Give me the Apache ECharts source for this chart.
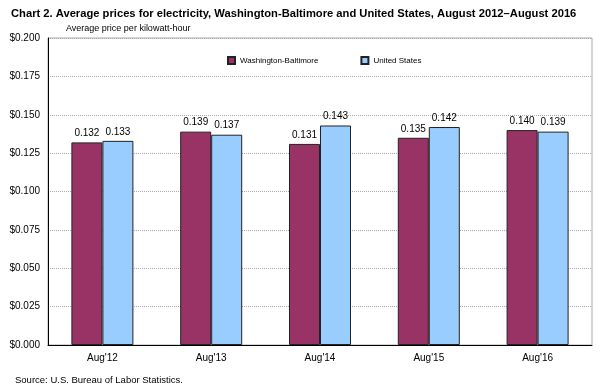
<!DOCTYPE html>
<html><head><meta charset="utf-8">
<script src="https://cdn.jsdelivr.net/npm/echarts@6/dist/echarts.min.js"></script>
<style>html,body{margin:0;padding:0;background:#fff}#c{width:608px;height:390px}</style>
</head><body><div id="c"></div>
<script>
const categories = ["Aug'12","Aug'13","Aug'14","Aug'15","Aug'16"];
const washBalt = [0.132,0.139,0.131,0.135,0.140];
const unitedStates = [0.133,0.137,0.143,0.142,0.139];
const seriesNames = ["Washington-Baltimore","United States"];
const yTicks = {min:0,max:0.2,interval:0.025};

const chart = echarts.init(document.getElementById('c'));
const labelCfg = {show:true,position:'top',distance:4,color:'#000',fontFamily:'Arial, Liberation Sans',fontSize:10,formatter:p=>p.value.toFixed(3)};
chart.setOption({
  animation:false,
  title:[
    {text:'Chart 2. Average prices for electricity, Washington-Baltimore and United States, August 2012\u2013August 2016',left:6,top:3,textStyle:{fontFamily:'Arial, Liberation Sans',fontSize:11.2,fontWeight:'bold',color:'#000'}},
    {text:'Average price per kilowatt-hour',left:61,top:19,textStyle:{fontFamily:'Arial, Liberation Sans',fontSize:9,fontWeight:'normal',color:'#000'}},
    {text:'Source: U.S. Bureau of Labor Statistics.',left:10,top:370,textStyle:{fontFamily:'Arial, Liberation Sans',fontSize:9.5,fontWeight:'normal',color:'#000'}}
  ],
  legend:{data:seriesNames,top:51,left:222,itemWidth:7,itemHeight:7,itemGap:42,icon:'rect',
    textStyle:{fontFamily:'Arial, Liberation Sans',fontSize:8,color:'#000'}},
  grid:{left:48,right:16,top:38,bottom:45,show:true,borderColor:'#aaa',borderWidth:1},
  xAxis:{type:'category',data:categories,
    axisLine:{lineStyle:{color:'#000',width:1}},axisTick:{show:false},
    axisLabel:{color:'#000',fontFamily:'Arial, Liberation Sans',fontSize:10,margin:8}},
  yAxis:{type:'value',min:yTicks.min,max:yTicks.max,interval:yTicks.interval,
    axisLine:{show:true,lineStyle:{color:'#000',width:1}},axisTick:{show:false},
    splitLine:{lineStyle:{color:'#aaa',type:[1,1],width:1}},
    axisLabel:{color:'#000',fontFamily:'Arial, Liberation Sans',fontSize:10,margin:8,formatter:v=>'$'+v.toFixed(3)}},
  series:[
    {name:seriesNames[0],type:'bar',data:washBalt,barWidth:31,barGap:'0%',barCategoryGap:'43%',
      itemStyle:{color:'#993366',borderColor:'#222',borderWidth:1},label:labelCfg},
    {name:seriesNames[1],type:'bar',data:unitedStates,barWidth:31,
      itemStyle:{color:'#99CCFF',borderColor:'#222',borderWidth:1},label:labelCfg}
  ]
});
</script></body></html>
